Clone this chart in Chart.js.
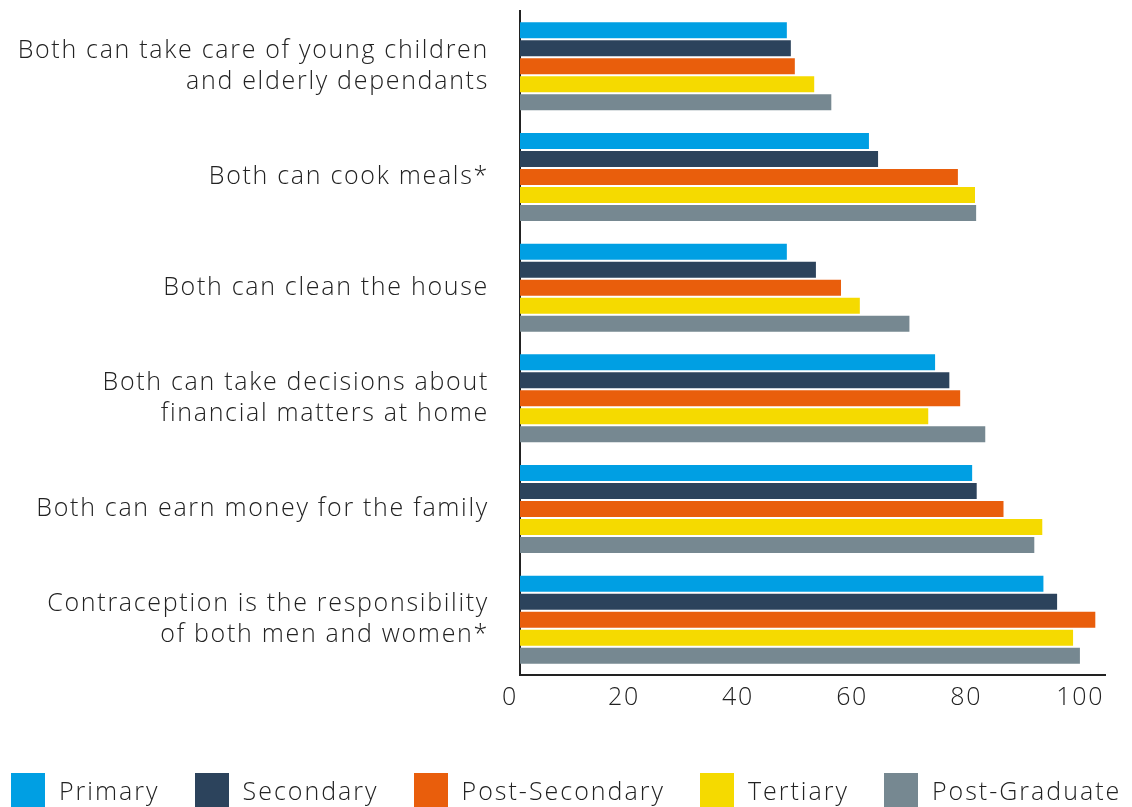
<!DOCTYPE html>
<html>
<head>
<meta charset="utf-8">
<script src="https://cdn.jsdelivr.net/npm/chart.js@4"></script>
<style>
  html, body { margin: 0; padding: 0; background: #fff; }
  #wrap { position: relative; width: 1132px; height: 807px; overflow: hidden; }
  .legend {
    position: absolute; left: 11px; top: 773px;
    display: flex; gap: 35px;
    font-family: "Open Sans", "Noto Sans", sans-serif;
    font-weight: 300; font-size: 25px; letter-spacing: 2px;
    color: #222; white-space: nowrap;
  }
  .legend span { display: flex; align-items: center; height: 34px; }
  .legend i { display: inline-block; width: 34px; height: 34px; margin-right: 14px; }
</style>
</head>
<body>
<div id="wrap">
  <canvas id="chart-bar"></canvas>
  <div class="legend"></div>
</div>
<script>
// statements, one row of bars each
const categories = [
    ['Both can take care of young children', 'and elderly dependants'],
    'Both can cook meals*',
    'Both can clean the house',
    ['Both can take decisions about', 'financial matters at home'],
    'Both can earn money for the family',
    ['Contraception is the responsibility', 'of both men and women*']
];

// agreement (%) by education level
const primary       = [46.8, 61.2, 46.8, 72.8, 79.3, 91.8];
const secondary     = [47.5, 62.8, 51.9, 75.3, 80.1, 94.2];
const postSecondary = [48.2, 76.8, 56.3, 77.2, 84.8, 100.9];
const tertiary      = [51.6, 79.8, 59.6, 71.6, 91.6, 97.0];
const postGraduate  = [54.6, 80.0, 68.3, 81.6, 90.2, 98.2];

const xTicks = [0, 20, 40, 60, 80, 100];

const textColor = '#222';
const fontFamily = '"Open Sans", "Noto Sans", sans-serif';

// wider letter spacing for all canvas text
const spacing = {
    id: 'spacing',
    beforeDraw: (chart) => { chart.ctx.letterSpacing = '1.7px'; }
};

let chartBar = document.getElementById('chart-bar').getContext('2d');

let barChart = new Chart(chartBar, {
    type: 'bar',
    data: {
        labels: categories,
        datasets: [
            { label: 'Primary',        data: primary,       backgroundColor: '#009fe3' },
            { label: 'Secondary',      data: secondary,     backgroundColor: '#2c435c' },
            { label: 'Post-Secondary', data: postSecondary, backgroundColor: '#e95e0c' },
            { label: 'Tertiary',       data: tertiary,      backgroundColor: '#f5da00' },
            { label: 'Post-Graduate',  data: postGraduate,  backgroundColor: '#768891' }
        ]
    },
    options: {
        indexAxis: 'y',
        responsive: true,
        maintainAspectRatio: false,
        animation: false,
        categoryPercentage: 0.814,
        barPercentage: 0.889,
        layout: { padding: { top: 11, right: 27, left: 0, bottom: 0 } },
        scales: {
            x: {
                min: 0,
                max: 102.6,
                afterBuildTicks: (scale) => {
                    scale.ticks = xTicks.map(v => ({ value: v }));
                },
                afterFit: (scale) => {
                    scale.height = 132;
                    scale.paddingLeft = 0;
                    scale.paddingRight = 0;
                },
                grid: { display: false },
                border: { display: true, color: '#222', width: 2 },
                ticks: {
                    color: textColor,
                    padding: 0,
                    labelOffset: -10,
                    maxRotation: 0,
                    font: { family: fontFamily, size: 25, weight: 300 }
                }
            },
            y: {
                afterFit: (scale) => {
                    scale.width = 520;
                    scale.paddingTop = 0;
                    scale.paddingBottom = 0;
                },
                grid: { display: false },
                border: { display: true, color: '#222', width: 2 },
                ticks: {
                    color: textColor,
                    padding: 23,
                    font: { family: fontFamily, size: 25, weight: 300, lineHeight: 1.24 }
                }
            }
        },
        plugins: {
            tooltip: { enabled: false },
            legend: { display: false }
        }
    },
    plugins: [spacing]
});

// legend row below the chart, built from the datasets
document.querySelector('.legend').innerHTML = barChart.data.datasets
    .map(ds => `<span><i style="background:${ds.backgroundColor}"></i>${ds.label}</span>`)
    .join('');
</script>
</body>
</html>
